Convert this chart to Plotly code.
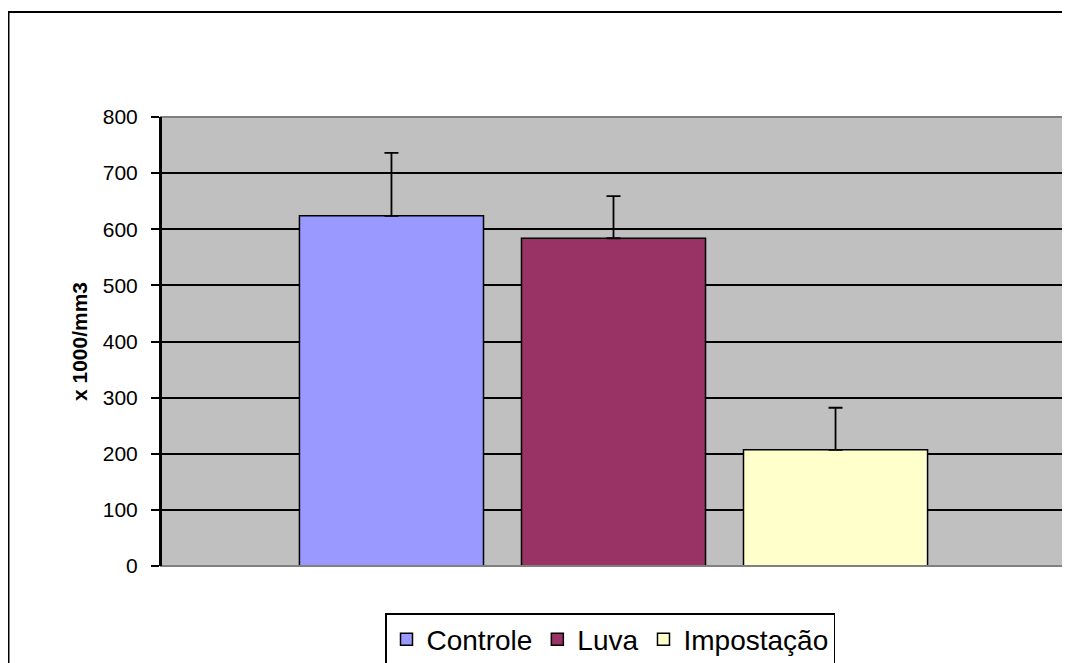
import plotly.graph_objects as go

series = ["Controle", "Luva", "Impostação"]
values = [624, 584, 207]
errors = [112, 75, 75]
colors = ["#9999FF", "#993366", "#FFFFCC"]
yticks = [0, 100, 200, 300, 400, 500, 600, 700, 800]

fig = go.Figure()
for name, v, e, c in zip(series, values, errors, colors):
    fig.add_trace(go.Bar(
        x=[""], y=[v], name=name,
        marker=dict(color=c, line=dict(color="black", width=1.5)),
        error_y=dict(type="data", array=[e], symmetric=False, arrayminus=[0],
                     color="black", thickness=1.8, width=7),
    ))

OFF = 8  # page body margin
W, H = 1062, 700  # taller than the viewport; the bottom is clipped like the original
# plot area in screen coords: x 161..1066, y 117..566
L = 161 - OFF
T = 117 - OFF
R = W - (1066 - OFF)
B = H - (566 - OFF)
pw, ph = W - L - R, H - T - B


def px(xs):
    return (xs - OFF - L) / pw


def py(ys):
    return (H - B - (ys - OFF)) / ph


fig.update_layout(
    width=W, height=H,
    margin=dict(l=L, r=R, t=T, b=B),
    paper_bgcolor="white",
    plot_bgcolor="#C0C0C0",
    barmode="group",
    bargap=0.264,
    bargroupgap=0.171,
    font=dict(family="Liberation Sans, Arial", color="black"),
    showlegend=True,
    legend=dict(
        orientation="h",
        x=px(610), xanchor="center",
        y=py(613), yanchor="top",
        bordercolor="black", borderwidth=1.5, bgcolor="white",
        font=dict(size=28, family="Liberation Sans, Arial"),
        itemwidth=30,
        traceorder="normal",
    ),
    xaxis=dict(showticklabels=False, showgrid=False, zeroline=False,
               showline=False, ticks=""),
    yaxis=dict(
        range=[0, 800], tickvals=yticks, ticktext=[str(t) for t in yticks],
        showgrid=True, gridcolor="black", gridwidth=1.8,
        zeroline=False, showline=True, linecolor="black", linewidth=2,
        ticks="outside", ticklen=8, tickcolor="black", tickwidth=1.8,
        tickfont=dict(size=21), ticklabelstandoff=9,
        title=dict(text="<b>x 1000/mm3</b>", font=dict(size=21), standoff=9),
    ),
    shapes=[
        dict(type="rect", xref="paper", yref="paper", x0=0, x1=1, y0=0, y1=1,
             line=dict(color="#808080", width=2), fillcolor="rgba(0,0,0,0)", layer="above"),
        dict(type="line", xref="paper", yref="paper", x0=0, x1=0, y0=0, y1=1,
             line=dict(color="black", width=2), layer="above"),
        dict(type="rect", xref="paper", yref="paper",
             x0=px(8.5), x1=px(1085), y0=py(12), y1=py(700),
             line=dict(color="black", width=2), fillcolor="rgba(0,0,0,0)", layer="below"),
    ],
)

fig.write_html("out.html")
